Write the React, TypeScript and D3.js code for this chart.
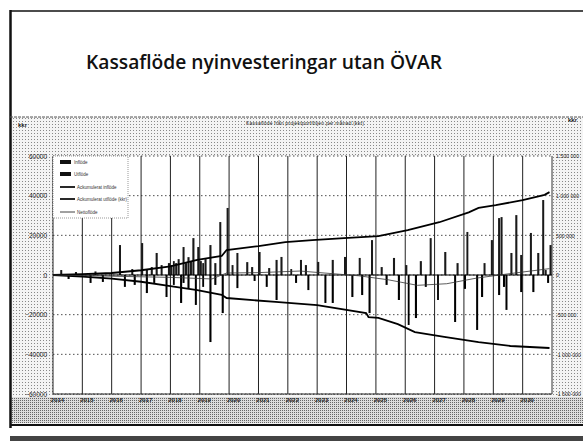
import * as d3 from 'd3';
import { useEffect, useRef } from 'react';

// tick labels
const years = ['2014', '2015', '2016', '2017', '2018', '2019', '2020', '2021', '2022', '2023', '2024', '2025', '2026', '2027', '2028', '2029', '2030'];
const leftTicks = [-60000, -40000, -20000, 0, 20000, 40000, 60000];
const rightTicks = [-1500000, -1000000, -500000, 0, 500000, 1000000, 1500000];

// monthly inflows (kkr, left axis)
const inflowMonths = ['2014-04', '2014-10', '2015-06', '2016-04', '2016-09', '2017-01', '2017-03', '2017-05', '2017-07', '2017-09', '2017-12', '2018-01', '2018-02', '2018-03', '2018-04', '2018-06', '2018-07', '2018-08', '2018-09', '2018-10', '2018-12', '2019-01', '2019-02', '2019-03', '2019-05', '2019-07', '2019-09', '2019-12', '2020-02', '2020-04', '2020-08', '2020-10', '2021-01', '2021-05', '2021-08', '2021-10', '2022-02', '2022-06', '2022-08', '2023-01', '2023-07', '2023-12', '2024-06', '2024-11', '2025-03', '2025-08', '2026-01', '2026-07', '2026-11', '2027-05', '2027-10', '2028-02', '2028-09', '2028-12', '2029-03', '2029-04', '2029-08', '2029-10', '2029-12', '2030-04', '2030-07', '2030-09', '2030-10', '2030-12'];
const inflowValues = [2500, 1500, 1800, 15100, 3000, 16100, 3000, 4000, 11100, 5000, 6000, 5000, 7000, 6000, 8000, 14100, 6000, 9000, 7000, 18600, 14100, 7000, 6000, 8000, 15100, 6000, 26700, 33800, 5000, 11100, 6500, 4000, 11600, 3500, 7600, 9100, 3000, 7600, 5000, 6600, 7600, 9100, 8600, 17600, 4000, 8600, 5000, 7000, 18600, 11600, 6000, 21700, 6000, 17600, 28700, 29200, 11100, 30200, 10100, 21200, 11100, 37800, 2500, 15100];

// monthly outflows (kkr, left axis)
const outflowMonths = ['2014-07', '2015-04', '2015-09', '2016-06', '2016-10', '2017-03', '2017-06', '2017-11', '2018-02', '2018-05', '2018-06', '2018-08', '2018-11', '2019-02', '2019-05', '2019-07', '2019-10', '2020-04', '2020-11', '2021-04', '2021-08', '2022-04', '2022-09', '2023-04', '2023-07', '2024-03', '2024-07', '2024-10', '2025-05', '2025-10', '2026-02', '2026-05', '2026-09', '2027-02', '2027-09', '2028-01', '2028-06', '2028-08', '2029-03', '2029-05', '2029-06', '2029-12', '2030-05', '2030-11'];
const outflowValues = [-2000, -4000, -3500, -6000, -5000, -9100, -4000, -11100, -5000, -14100, -4000, -7000, -15100, -6000, -33800, -5000, -19200, -6600, -3000, -6000, -12600, -4000, -7600, -14100, -14100, -11100, -10100, -19200, -5000, -12600, -25200, -21700, -6000, -12600, -23700, -7000, -27700, -11100, -10100, -6000, -17600, -8600, -8600, -4000];

// accumulated inflow (right axis)
const accInMonths = ['2014-01', '2015-01', '2016-01', '2017-01', '2018-01', '2018-12', '2019-10', '2019-12', '2021-01', '2021-12', '2022-11', '2023-12', '2025-02', '2026-02', '2027-03', '2028-03', '2028-07', '2029-02', '2030-01', '2030-10', '2030-12'];
const accInValues = [0, 10000, 25000, 60000, 110000, 190000, 240000, 315000, 365000, 415000, 440000, 465000, 490000, 565000, 665000, 790000, 845000, 880000, 945000, 1010000, 1045000];

// accumulated outflow (right axis)
const accOutMonths = ['2014-01', '2015-01', '2016-01', '2017-01', '2018-01', '2018-12', '2019-10', '2019-12', '2021-08', '2023-01', '2024-09', '2024-10', '2025-02', '2025-10', '2026-05', '2027-05', '2028-07', '2029-08', '2030-12'];
const accOutValues = [0, -20000, -45000, -85000, -140000, -190000, -250000, -290000, -340000, -380000, -480000, -530000, -540000, -620000, -720000, -780000, -845000, -895000, -920000];

// net accumulated (right axis)
const netMonths = ['2014-01', '2016-01', '2018-01', '2019-06', '2019-12', '2021-01', '2022-06', '2024-06', '2025-06', '2026-06', '2027-06', '2028-06', '2029-06', '2030-12'];
const netValues = [0, -15000, -30000, -50000, 25000, 30000, 50000, -10000, -60000, -130000, -110000, -40000, 10000, 80000];

const legendLabels = ['Inflöde', 'Utflöde', 'Ackumulerat inflöde', 'Ackumulerat utflöde (kkr)', 'Nettoflöde'];

function App() {
  const ref = useRef<SVGSVGElement>(null);

  useEffect(() => {
    const svg = d3.select(ref.current);
    svg.selectAll('*').remove();

    const plot = { left: 53, right: 552, top: 156, bottom: 394 };
    const parse = d3.timeParse('%Y-%m');
    const font = 'Liberation Sans, Arial, sans-serif';

    const x = d3
      .scaleTime()
      .domain([new Date(2014, 0, 1), new Date(2031, 0, 1)])
      .range([plot.left, plot.right]);
    const yL = d3.scaleLinear().domain([-60000, 60000]).range([plot.bottom, plot.top]);
    const yR = d3.scaleLinear().domain([-1500000, 1500000]).range([plot.bottom, plot.top]);

    // stipple patterns (scanned look)
    const defs = svg.append('defs');
    const p1 = defs.append('pattern').attr('id', 'dots').attr('width', 3).attr('height', 3).attr('patternUnits', 'userSpaceOnUse');
    p1.append('rect').attr('width', 3).attr('height', 3).attr('fill', '#f4f4f4');
    p1.append('rect').attr('x', 1).attr('y', 1).attr('width', 1).attr('height', 1).attr('fill', '#888');
    const p2 = defs.append('pattern').attr('id', 'dense').attr('width', 2).attr('height', 2).attr('patternUnits', 'userSpaceOnUse');
    p2.append('rect').attr('width', 2).attr('height', 2).attr('fill', '#dcdcdc');
    p2.append('rect').attr('width', 1).attr('height', 1).attr('fill', '#666');

    svg.append('rect').attr('width', 583).attr('height', 441).attr('fill', '#fff');

    // slide title
    svg
      .append('text')
      .attr('x', 264)
      .attr('y', 69)
      .attr('text-anchor', 'middle')
      .attr('font-family', 'Open Sans, Lato, sans-serif')
      .attr('font-weight', 600)
      .attr('font-size', 19)
      .attr('textLength', 356)
      .attr('lengthAdjust', 'spacingAndGlyphs')
      .attr('fill', '#111')
      .text('Kassaflöde nyinvesteringar utan ÖVAR');

    // chart area
    svg.append('rect').attr('x', 10).attr('y', 117).attr('width', 573).attr('height', 308).attr('fill', 'url(#dots)');
    svg.append('rect').attr('x', 10).attr('y', 397).attr('width', 573).attr('height', 26).attr('fill', 'url(#dense)');
    svg
      .append('rect')
      .attr('x', plot.left)
      .attr('y', plot.top)
      .attr('width', plot.right - plot.left)
      .attr('height', plot.bottom - plot.top)
      .attr('fill', '#fff');

    // frame lines
    svg.append('line').attr('x1', 10).attr('x2', 583).attr('y1', 11).attr('y2', 11).attr('stroke', '#111').attr('stroke-width', 1.5);
    svg.append('line').attr('x1', 10.5).attr('x2', 10.5).attr('y1', 10).attr('y2', 428).attr('stroke', '#111').attr('stroke-width', 2.5);
    svg.append('line').attr('x1', 10).attr('x2', 583).attr('y1', 117).attr('y2', 117).attr('stroke', '#555').attr('stroke-dasharray', '3,1');
    svg.append('line').attr('x1', 10).attr('x2', 583).attr('y1', 425).attr('y2', 425).attr('stroke', '#111').attr('stroke-width', 2);
    svg.append('rect').attr('x', 10).attr('y', 436).attr('width', 573).attr('height', 5).attr('fill', '#444');

    // chart title and unit labels
    svg
      .append('text')
      .attr('x', 305)
      .attr('y', 125)
      .attr('text-anchor', 'middle')
      .attr('font-family', font)
      .attr('font-size', 5)
      .attr('textLength', 118)
      .attr('fill', '#222')
      .text('Kassaflöde från projektportföljen per månad (kkr)');
    svg.append('text').attr('x', 18).attr('y', 127).attr('font-family', font).attr('font-size', 6).attr('font-weight', 700).attr('fill', '#222').text('kkr');
    svg.append('text').attr('x', 568).attr('y', 122).attr('font-family', font).attr('font-size', 6).attr('font-weight', 700).attr('fill', '#222').text('kkr');

    // gridlines
    const yearDates = years.map((y) => new Date(+y, 0, 1));
    svg
      .append('g')
      .selectAll('line')
      .data(leftTicks)
      .enter()
      .append('line')
      .attr('x1', plot.left)
      .attr('x2', plot.right)
      .attr('y1', (d) => yL(d))
      .attr('y2', (d) => yL(d))
      .attr('stroke', '#222')
      .attr('stroke-width', 0.8)
      .attr('stroke-dasharray', '1.5,2.5');
    svg
      .append('g')
      .selectAll('line')
      .data(yearDates)
      .enter()
      .append('line')
      .attr('x1', (d) => x(d))
      .attr('x2', (d) => x(d))
      .attr('y1', plot.top)
      .attr('y2', plot.bottom)
      .attr('stroke', '#222')
      .attr('stroke-width', 1);
    svg.append('line').attr('x1', plot.right).attr('x2', plot.right).attr('y1', plot.top).attr('y2', plot.bottom).attr('stroke', '#333');
    svg.append('line').attr('x1', plot.left).attr('x2', plot.right).attr('y1', plot.bottom).attr('y2', plot.bottom).attr('stroke', '#333');

    // bars
    const barW = (d: Date) => Math.max(1.5, x(d3.timeMonth.offset(d, 1)) - x(d) - 0.4);
    const inflow = inflowMonths.map((m, i) => ({ date: parse(m) as Date, value: inflowValues[i] }));
    const outflow = outflowMonths.map((m, i) => ({ date: parse(m) as Date, value: outflowValues[i] }));
    svg
      .append('g')
      .selectAll('rect')
      .data(inflow)
      .enter()
      .append('rect')
      .attr('x', (d) => x(d.date))
      .attr('width', (d) => barW(d.date))
      .attr('y', (d) => yL(d.value))
      .attr('height', (d) => yL(0) - yL(d.value))
      .attr('fill', '#1a1a1a');
    svg
      .append('g')
      .selectAll('rect')
      .data(outflow)
      .enter()
      .append('rect')
      .attr('x', (d) => x(d.date))
      .attr('width', (d) => barW(d.date))
      .attr('y', yL(0))
      .attr('height', (d) => yL(d.value) - yL(0))
      .attr('fill', '#000');

    // zero line
    svg.append('line').attr('x1', plot.left).attr('x2', plot.right).attr('y1', yL(0)).attr('y2', yL(0)).attr('stroke', '#000').attr('stroke-width', 1);

    // accumulated lines
    const line = d3
      .line<{ date: Date; value: number }>()
      .x((d) => x(d.date))
      .y((d) => yR(d.value));
    const toPts = (ms: string[], vs: number[]) => ms.map((m, i) => ({ date: parse(m) as Date, value: vs[i] }));
    svg.append('path').datum(toPts(accInMonths, accInValues)).attr('d', line).attr('fill', 'none').attr('stroke', '#000').attr('stroke-width', 1.8);
    svg.append('path').datum(toPts(accOutMonths, accOutValues)).attr('d', line).attr('fill', 'none').attr('stroke', '#000').attr('stroke-width', 1.8);
    svg.append('path').datum(toPts(netMonths, netValues)).attr('d', line).attr('fill', 'none').attr('stroke', '#333').attr('stroke-width', 0.8);

    // axes
    const left = svg
      .append('g')
      .attr('transform', `translate(${plot.left},0)`)
      .call(d3.axisLeft(yL).tickValues(leftTicks).tickSize(0).tickPadding(6).tickFormat(d3.format('d')));
    left.select('.domain').remove();
    left.selectAll('text').attr('font-family', font).attr('font-size', 6.5).attr('fill', '#222');

    const right = svg
      .append('g')
      .attr('transform', `translate(${plot.right},0)`)
      .call(
        d3
          .axisRight(yR)
          .tickValues(rightTicks)
          .tickSize(0)
          .tickPadding(4)
          .tickFormat((d) => d3.format(',')(d as number).replace(/,/g, ' ').replace('−', '-'))
      );
    right.select('.domain').remove();
    right.selectAll('text').attr('font-family', font).attr('font-size', 5.2).attr('fill', '#222');

    const bottom = svg
      .append('g')
      .attr('transform', `translate(0,${plot.bottom})`)
      .call(d3.axisBottom(x).tickValues(yearDates).tickSize(0).tickPadding(4).tickFormat(d3.timeFormat('%Y') as any));
    bottom.select('.domain').remove();
    bottom.selectAll('text').attr('dx', 4).attr('font-family', font).attr('font-size', 6).attr('font-weight', 700).attr('fill', '#222');

    // legend
    const lg = svg.append('g');
    lg.append('rect').attr('x', plot.left).attr('y', plot.top).attr('width', 75).attr('height', 62).attr('fill', '#fff').attr('stroke', '#555').attr('stroke-width', 0.6).attr('stroke-dasharray', '1,1');
    const ly = [162, 174, 187, 199, 212];
    legendLabels.forEach((label, i) => {
      if (i < 2) {
        lg.append('rect').attr('x', 60).attr('y', ly[i] - 2).attr('width', 11).attr('height', 4).attr('fill', '#111');
      } else {
        lg.append('line').attr('x1', 60).attr('x2', 75).attr('y1', ly[i]).attr('y2', ly[i]).attr('stroke', '#111').attr('stroke-width', i === 4 ? 0.8 : 1.8);
      }
      lg.append('text')
        .attr('x', i < 2 ? 74 : 77)
        .attr('y', ly[i] + 1.6)
        .attr('font-family', font)
        .attr('font-size', 4.5)
        .attr('fill', '#333')
        .text(label);
    });
  }, []);

  return <svg ref={ref} width={583} height={441} style={{ position: 'absolute', left: 0, top: 0 }} />;
}

export default App;
